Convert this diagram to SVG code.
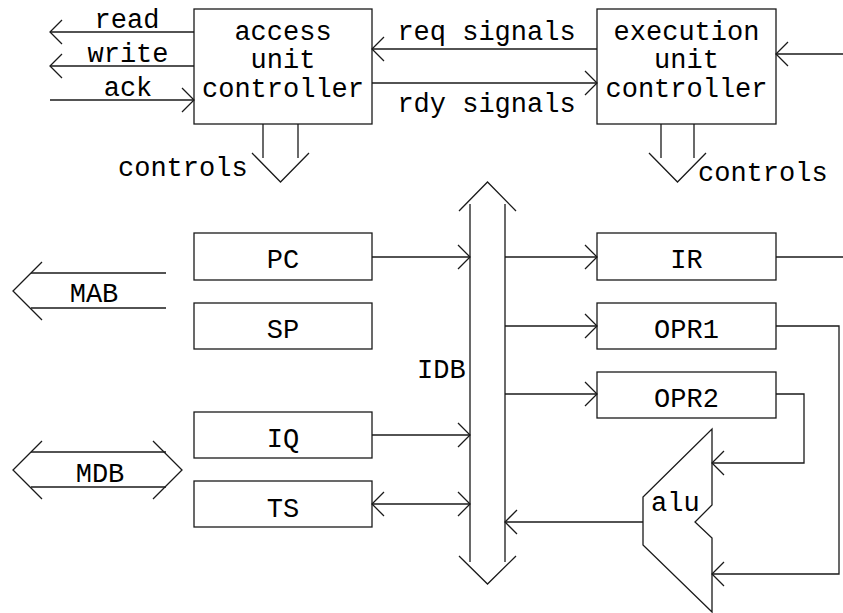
<svg xmlns="http://www.w3.org/2000/svg" width="843" height="613" viewBox="0 0 843 613">
<defs>
<style>
text{font-family:"Liberation Mono","Courier New",monospace;font-size:27px;fill:#000}
.m{text-anchor:middle}
.bx,.ln,polygon,polyline{fill:none;stroke:#1a1a1a;stroke-width:1.3}
.a{marker-end:url(#arr)}
.b{marker-start:url(#arr);marker-end:url(#arr)}
</style>
<marker id="arr" markerUnits="userSpaceOnUse" markerWidth="30" markerHeight="30" refX="0" refY="0" orient="auto-start-reverse" overflow="visible">
<path d="M-12,-12 L0,0 L-12,12" fill="none" stroke="#1a1a1a" stroke-width="1.3"/>
</marker>
</defs>
<rect width="843" height="613" fill="#fff"/>

<g id="access">
<rect class="bx" x="194" y="9" width="178" height="115"/>
<text class="m" x="283" y="40">access</text>
<text class="m" x="283" y="68">unit</text>
<text class="m" x="283" y="97">controller</text>
</g>
<g id="execution">
<rect class="bx" x="597" y="9" width="179" height="115"/>
<text class="m" x="686.5" y="40">execution</text>
<text class="m" x="686.5" y="68">unit</text>
<text class="m" x="686.5" y="97">controller</text>
</g>
<g id="PC"><rect class="bx" x="194" y="233" width="178" height="47"/><text class="m" x="283" y="268">PC</text></g>
<g id="SP"><rect class="bx" x="194" y="303" width="178" height="46"/><text class="m" x="283" y="338">SP</text></g>
<g id="IQ"><rect class="bx" x="194" y="412" width="178" height="46"/><text class="m" x="283" y="447">IQ</text></g>
<g id="TS"><rect class="bx" x="194" y="481" width="178" height="46"/><text class="m" x="283" y="517">TS</text></g>
<g id="IR"><rect class="bx" x="597" y="233" width="179" height="47"/><text class="m" x="686.5" y="268">IR</text></g>
<g id="OPR1"><rect class="bx" x="597" y="303" width="179" height="46"/><text class="m" x="686.5" y="338">OPR1</text></g>
<g id="OPR2"><rect class="bx" x="597" y="372" width="179" height="46"/><text class="m" x="686.5" y="407">OPR2</text></g>
<g id="alu">
<polygon points="712,429 712,505 695,522 712,538 712,612 643,545 643,497"/>
<text x="651" y="511">alu</text>
</g>
<g id="IDB">
<polyline points="459,211 487.5,182 516,211"/>
<polyline points="459,556 487.5,584 516,556"/>
<line class="ln" x1="470" y1="204" x2="470" y2="562"/>
<line class="ln" x1="505" y1="204" x2="505" y2="562"/>
<text x="417" y="378">IDB</text>
</g>
<g id="MAB">
<polyline points="42,262 13,291 42,320"/>
<line class="ln" x1="31" y1="273" x2="166" y2="273"/>
<line class="ln" x1="31" y1="308" x2="166" y2="308"/>
<text class="m" x="94" y="302">MAB</text>
</g>
<g id="MDB">
<polyline points="42,441 13,470 42,499"/>
<polyline points="153,441 182,470 153,499"/>
<line class="ln" x1="31" y1="452" x2="166" y2="452"/>
<line class="ln" x1="31" y1="487" x2="166" y2="487"/>
<text class="m" x="100" y="482">MDB</text>
</g>

<g id="connectors">
<path class="ln a" d="M194,32 H50"/>
<path class="ln a" d="M194,66 H50"/>
<path class="ln a" d="M50,100 H194"/>
<path class="ln a" d="M597,49 H372"/>
<path class="ln a" d="M372,83 H597"/>
<path class="ln a" d="M843,54 H776"/>
<line class="ln" x1="263" y1="124" x2="263" y2="158"/>
<line class="ln" x1="298" y1="124" x2="298" y2="158"/>
<polyline points="252,153 280.5,182 309,153"/>
<line class="ln" x1="661" y1="124" x2="661" y2="158"/>
<line class="ln" x1="694" y1="124" x2="694" y2="158"/>
<polyline points="649,153 677.5,182 706,153"/>
<path class="ln a" d="M372,257 H470"/>
<path class="ln a" d="M372,435 H470"/>
<path class="ln b" d="M372,504 H470"/>
<path class="ln a" d="M505,257 H597"/>
<path class="ln a" d="M505,326 H597"/>
<path class="ln a" d="M505,394 H597"/>
<path class="ln" d="M776,257 H843"/>
<path class="ln a" d="M776,326 H839 V574 H712"/>
<path class="ln a" d="M776,394 H804 V463 H712"/>
<path class="ln a" d="M643,522 H505"/>
</g>

<g id="labels">
<text class="m" x="127" y="28">read</text>
<text class="m" x="128" y="62">write</text>
<text class="m" x="128" y="96">ack</text>
<text class="m" x="486.5" y="40">req signals</text>
<text class="m" x="486.5" y="112">rdy signals</text>
<text x="118" y="176">controls</text>
<text x="698" y="181">controls</text>
</g>
</svg>
